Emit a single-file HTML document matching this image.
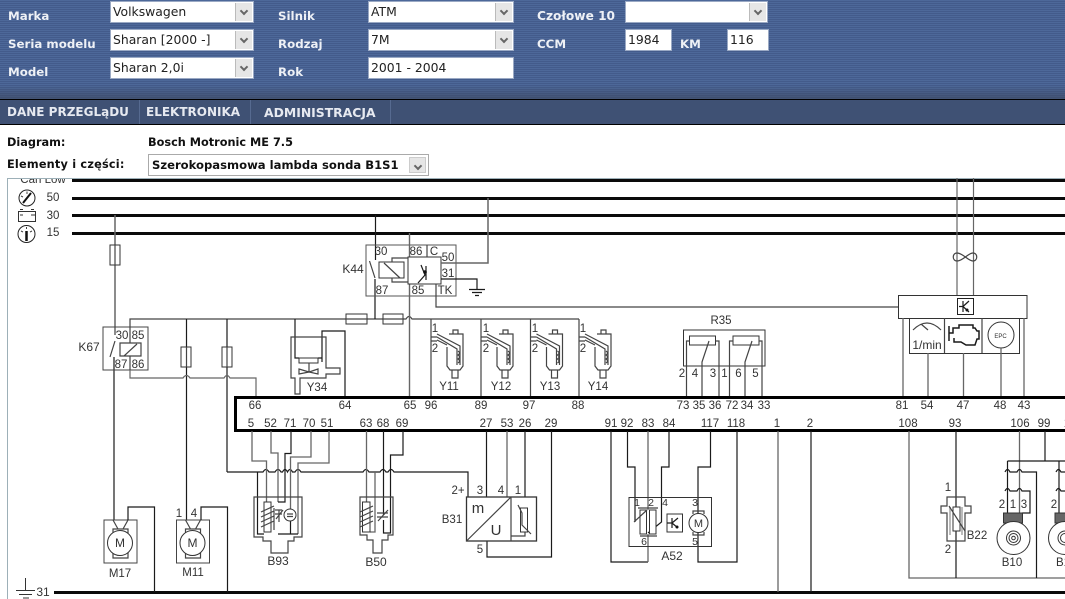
<!DOCTYPE html>
<html lang="pl"><head><meta charset="utf-8"><title>Bosch Motronic ME 7.5</title>
<style>
html,body{margin:0;padding:0;background:#fff}
body{position:relative;width:1065px;height:599px;overflow:hidden;font-family:"DejaVu Sans","Liberation Sans",sans-serif}
.hdr{position:absolute;left:0;top:0;width:1065px;height:99px;background:repeating-linear-gradient(180deg,#4d6899 0,#4d6899 1px,#435b8b 1px,#435b8b 2px)}
.hdr:after{content:"";position:absolute;left:0;right:0;bottom:0;height:14px;background:linear-gradient(180deg,rgba(60,70,90,0),rgba(60,70,90,.6))}
.l{position:absolute;color:#eef1f6;font-weight:bold;font-size:11.8px;line-height:14px;white-space:nowrap}
.f{position:absolute;box-sizing:border-box;background:#fff;border:1px solid #9aa9c4;height:22px;font-size:12.4px;line-height:20px;padding-left:2px;color:#222;white-space:nowrap}
.b{position:absolute;right:1px;top:1px;bottom:1px;width:16px;background:#e6e6e6;border-left:1px solid #bbb}
.b:after{content:"";position:absolute;left:5px;top:5px;width:4px;height:4px;border-right:2px solid #666;border-bottom:2px solid #666;transform:rotate(45deg)}
.nav{position:absolute;left:0;top:99px;width:1065px;height:26px;box-sizing:border-box;border-top:1px solid #000;border-bottom:1px solid #000;background:#3f5174}
.t{position:absolute;top:0;height:24px;line-height:25px;color:#e6e9f0;font-weight:bold;font-size:12px;white-space:nowrap;border-right:1px solid #566a90;box-sizing:border-box}
.d{position:absolute;color:#111;font-weight:bold;font-size:11.3px;line-height:14px;white-space:nowrap}
svg{position:absolute;left:0;top:0}
svg text{font-family:"Liberation Sans",sans-serif;font-size:11.5px;fill:#333;text-anchor:middle}
.w{fill:none;stroke:#444;stroke-width:1.2}
.k{fill:none;stroke:#1a1a1a;stroke-width:1.2}
.g{fill:none;stroke:#666;stroke-width:1.5}
.bus{fill:none;stroke:#0a0a0a;stroke-width:3}
</style></head><body>
<div class="hdr"></div>
<div class="l" style="left:8px;top:9px">Marka</div>
<div class="l" style="left:8px;top:37px">Seria modelu</div>
<div class="l" style="left:8px;top:65px">Model</div>
<div class="l" style="left:278px;top:9px">Silnik</div>
<div class="l" style="left:278px;top:37px">Rodzaj</div>
<div class="l" style="left:278px;top:65px">Rok</div>
<div class="l" style="left:537px;top:9px;font-size:12.2px">Czołowe 10</div>
<div class="l" style="left:537px;top:37px">CCM</div>
<div class="l" style="left:680px;top:37px">KM</div>
<div class="f" style="left:110px;top:1px;width:144px">Volkswagen<span class="b"></span></div>
<div class="f" style="left:110px;top:29px;width:144px">Sharan [2000 -]<span class="b"></span></div>
<div class="f" style="left:110px;top:57px;width:144px">Sharan 2,0i<span class="b"></span></div>
<div class="f" style="left:368px;top:1px;width:146px">ATM<span class="b"></span></div>
<div class="f" style="left:368px;top:29px;width:146px">7M<span class="b"></span></div>
<div class="f" style="left:368px;top:57px;width:146px">2001 - 2004</div>
<div class="f" style="left:625px;top:1px;width:143px"><span class="b"></span></div>
<div class="f" style="left:625px;top:29px;width:47px">1984</div>
<div class="f" style="left:727px;top:29px;width:42px">116</div>
<div class="nav">
<div class="t" style="left:0;width:140px;padding-left:7px">DANE PRZEGLąDU</div>
<div class="t" style="left:140px;width:111px;padding-left:6px">ELEKTRONIKA</div>
<div class="t" style="left:251px;width:140px;padding-left:13px;font-size:12.4px">ADMINISTRACJA</div>
</div>
<div class="d" style="left:7px;top:136px">Diagram:</div>
<div class="d" style="left:148px;top:136px">Bosch Motronic ME 7.5</div>
<div class="d" style="left:7px;top:158px;letter-spacing:.2px">Elementy i części:</div>
<div class="f d" style="left:148px;top:154px;width:281px;height:22px;border-color:#aaa;border-width:1px;line-height:20px;padding-left:3px;background:#fff;font-size:11.6px">Szerokopasmowa lambda sonda B1S1<span class="b" style="border:1px solid #ccc;top:2px;bottom:2px;right:2px;width:15px"></span></div>

<svg width="1065" height="599" viewBox="0 0 1065 599">
<defs>
<clipPath id="c"><rect x="8" y="179" width="1057" height="420"/></clipPath>
</defs>
<!-- frame -->
<path d="M7.500 599V178.500H1065" fill="none" stroke="#9db0b8" stroke-width="1"/>
<text x="43" y="183" clip-path="url(#c)">Can Low</text>
<!-- buses -->
<path class="bus" d="M72 180.500H1065M72 198.500H1065M72 215.500H1065M72 233.500H1065M54 592.500H1065"/>
<text x="53" y="201">50</text><text x="53" y="219">30</text><text x="53" y="236">15</text>
<text x="43" y="596" style="font-size:12px">31</text>
<!-- left icons -->
<circle cx="27" cy="198" r="8" fill="none" stroke="#222"/><path d="M23 203L31 193" stroke="#111" stroke-width="2"/><path d="M27 191.500V194M21 196L23 197" stroke="#444"/>
<path d="M18.500 211.500V221.500H35.500V211.500ZM20 209.500h3M31 209.500h3M31 215h4M20 215h3" fill="none" stroke="#333"/>
<circle cx="26.500" cy="234" r="8.500" fill="none" stroke="#222"/><path d="M26.500 231V241" stroke="#111" stroke-width="2.500"/><path d="M26.500 227V229M21 231L23 232M32 231L30 232" stroke="#444"/>
<path d="M25.500 578V590M16 590.500H35M19 594.500H32M23 598H29" fill="none" stroke="#333"/>
<!-- fuse + K67 -->
<path class="g" d="M115 215V335"/>
<path class="k" d="M114 357V520"/>
<rect x="110" y="245" width="10" height="20" fill="#fff" stroke="#333"/><path class="w" d="M115 245V265"/>
<rect x="103" y="327" width="45" height="43" fill="none" stroke="#444"/>
<path class="w" d="M110 357L115 341M130 327V343M130 356V370M120 343H141V356H120ZM124 356L137 344"/>
<text x="122" y="339">30</text><text x="138" y="339">85</text><text x="121" y="368">87</text><text x="138" y="368">86</text><text x="89" y="351" style="font-size:12px">K67</text>
<!-- y=319 feed -->
<path class="w" d="M130 327V319H346M367 319H383M403 319H406q3 -5 6 0H579"/>
<path class="w" d="M375 278L369.500 261"/>
<path class="k" d="M375.500 260V215M375 319V279"/>
<rect x="346" y="314" width="21" height="10" fill="#fff" stroke="#333"/><rect x="383" y="314" width="20" height="10" fill="#fff" stroke="#333"/><path class="w" d="M346 319H367M383 319H403"/>
<path class="k" d="M186.500 319V347M186.500 367V520"/>
<rect x="181" y="347" width="10" height="20" fill="#fff" stroke="#333"/><path class="w" d="M186.500 347V367"/>
<path class="k" d="M227 319V347M227 367V472"/>
<rect x="222" y="347" width="10" height="20" fill="#fff" stroke="#333"/><path class="w" d="M227 347V367"/>
<path class="g" d="M130 370V378H183q3.500 -5 7 0H224q3 -5 6 0H256V397" style="stroke-width:1.2"/>
<!-- Y34 -->
<path class="k" d="M295 319V358H299M322 358V331H345V397M318 358H322V362"/>
<path class="w" d="M326 337H291V378H295V394H300V378H326V374H340V368H326Z"/>
<rect x="299" y="358" width="19" height="5" fill="none" stroke="#333"/>
<path class="w" d="M309 363V372M299 369L309 372L299 374ZM318 369L309 372L318 374Z"/>
<text x="317" y="391">Y34</text>
<!-- K44 -->
<rect x="366" y="245" width="90" height="51" fill="none" stroke="#555"/>
<path class="g" d="M409.500 233V397" style="stroke-width:1.400"/>
<rect x="408" y="257" width="33" height="27" fill="#fff" stroke="#333"/>
<rect x="379" y="262" width="25" height="16" fill="none" stroke="#333"/>
<path class="w" d="M384 263L400 278M392 262V258H408M392 278V282H408M427 245V257M436 284V296"/>
<path class="k" d="M421 265L425 275L418 283M426 266V280"/><circle cx="425" cy="272" r="1.800" fill="#111"/>
<path class="g" d="M488 198V263H441"/>
<path class="k" d="M441 279H477V289M469 289.500H485M472 292.500H482M475 295.500H479"/>
<path class="w" d="M436 296V307H898"/>
<text x="381" y="255">30</text><text x="416" y="255">86</text><text x="434" y="255">C</text><text x="448" y="261">50</text><text x="448" y="277">31</text><text x="382" y="294">87</text><text x="418" y="294">85</text><text x="445" y="294">TK</text><text x="353" y="273" style="font-size:12px">K44</text>
<!-- injectors -->
<path class="w" d="M431 319V397M431 337H437M431 341H437M437 334L460 346V365M437 337L457 349V365M437 340L447 345M449 334H463V366L460 370H450L447 366V347M453 334V330H458V334M452 370V378H458V370M458 351q3 2 0 4q3 2 0 4q3 2 0 4"/>
<text x="435" y="332">1</text><text x="435" y="352">2</text><text x="449" y="390">Y11</text>
<path class="w" transform="translate(50 0)" d="M431 319V397M431 337H437M431 341H437M437 334L460 346V365M437 337L457 349V365M437 340L447 345M449 334H463V366L460 370H450L447 366V347M453 334V330H458V334M452 370V378H458V370M458 351q3 2 0 4q3 2 0 4q3 2 0 4"/>
<text x="486" y="332">1</text><text x="486" y="352">2</text><text x="501" y="390">Y12</text>
<path class="w" transform="translate(99.500 0)" d="M431 319V397M431 337H437M431 341H437M437 334L460 346V365M437 337L457 349V365M437 340L447 345M449 334H463V366L460 370H450L447 366V347M453 334V330H458V334M452 370V378H458V370M458 351q3 2 0 4q3 2 0 4q3 2 0 4"/>
<text x="535" y="332">1</text><text x="535" y="352">2</text><text x="550" y="390">Y13</text>
<path class="w" transform="translate(148 0)" d="M431 319V397M431 337H437M431 341H437M437 334L460 346V365M437 337L457 349V365M437 340L447 345M449 334H463V366L460 370H450L447 366V347M453 334V330H458V334M452 370V378H458V370M458 351q3 2 0 4q3 2 0 4q3 2 0 4"/>
<text x="583" y="332">1</text><text x="583" y="352">2</text><text x="598" y="390">Y14</text>
<!-- R35 -->
<rect x="683.500" y="330" width="81.500" height="36" fill="none" stroke="#333"/>
<rect x="689.500" y="336" width="26" height="9" fill="#fff" stroke="#333"/><rect x="733" y="336" width="26" height="9" fill="#fff" stroke="#333"/>
<path class="w" d="M686.500 397V341H689.500M719 397V341H715.500M702 397V362L709 341M729.500 397V341H733M762 397V341H759M745 397V362L752 341"/>
<text x="721" y="324">R35</text><text x="682" y="377">2</text><text x="695" y="377">4</text><text x="713" y="377">3</text><text x="724.500" y="377">1</text><text x="738.500" y="377">6</text><text x="755.500" y="377">5</text>
<!-- dashboard -->
<path class="g" d="M957 178V295M973.500 178V295" style="stroke-width:1.200"/>
<path class="w" d="M957 253C963 253 968 261 973 261C978 261 978 253 973 253C968 253 963 261 957 261C952 261 952 253 957 253Z" fill="#fff"/>
<rect x="898.500" y="295.500" width="128.500" height="23" fill="#fff" stroke="#333"/>
<rect x="957.500" y="298.500" width="16" height="16" fill="#fff" stroke="#222"/>
<path class="k" d="M963 301V312M963 306.500L959 306.500M963 306.500L969 301M963 306.500L969 312"/><circle cx="967" cy="310" r="1.500" fill="#111"/>
<rect x="909.500" y="318.500" width="110" height="35" fill="none" stroke="#333"/>
<path class="w" d="M944.500 318V353M982 318V353M913 330Q927 316 941 330M921 324L928 330"/>
<text x="927" y="349" style="font-size:12px">1/min</text>
<path class="k" style="stroke-width:1.500" d="M949 326V341M949 333H953V328H959V325H973V328H975L977 331H979V339H977L975 345H966L961 342H954V338"/>
<circle cx="1001" cy="335" r="13" fill="none" stroke="#333"/><text x="1000.500" y="338" style="font-size:6px">EPC</text>
<path class="g" d="M903 318V397M928 353V397M963.500 353V397M1001 348V397M1024 318V397" style="stroke-width:1.300"/>
<!-- ECU -->
<rect x="235.500" y="397.500" width="840" height="33" fill="#fff" stroke="#000" stroke-width="3"/>
<text x="255" y="409">66</text><text x="345" y="409">64</text><text x="410" y="409">65</text><text x="431" y="409">96</text><text x="481" y="409">89</text><text x="529" y="409">97</text><text x="578" y="409">88</text><text x="683" y="409">73</text><text x="699" y="409">35</text><text x="715" y="409">36</text><text x="732" y="409">72</text><text x="747" y="409">34</text><text x="764" y="409">33</text><text x="902" y="409">81</text><text x="927" y="409">54</text><text x="963" y="409">47</text><text x="1000" y="409">48</text><text x="1024" y="409">43</text>
<text x="251" y="427">5</text><text x="270.500" y="427">52</text><text x="290" y="427">71</text><text x="309" y="427">70</text><text x="327" y="427">51</text><text x="366" y="427">63</text><text x="383" y="427">68</text><text x="402" y="427">69</text><text x="486" y="427">27</text><text x="507" y="427">53</text><text x="525" y="427">26</text><text x="551" y="427">29</text><text x="611" y="427">91</text><text x="627" y="427">92</text><text x="648" y="427">83</text><text x="669" y="427">84</text><text x="710" y="427">117</text><text x="736" y="427">118</text><text x="777" y="427">1</text><text x="810" y="427">2</text><text x="908" y="427">108</text><text x="955" y="427">93</text><text x="1020" y="427">106</text><text x="1044" y="427">99</text><text x="1067" y="427">1</text>
<!-- M17 / M11 -->
<rect x="104" y="520" width="33" height="43" fill="none" stroke="#444"/>
<path class="w" d="M113 520L118 529M128 520L123 529M113 533V529H128V533M113 553V558H128V553"/>
<circle cx="120" cy="543" r="12.500" fill="#fff" stroke="#333"/>
<text x="120" y="547" style="font-size:12px">M</text>
<text x="120" y="577">M17</text>
<path class="k" d="M128 520V507H154.500V592"/>
<rect x="176.500" y="520" width="33" height="43" fill="none" stroke="#444"/>
<path class="w" d="M185.500 520L190.500 529M200.500 520L195.500 529M185.500 533V529H200.500V533M185.500 553V558H200.500V553"/>
<circle cx="192.500" cy="543" r="12.500" fill="#fff" stroke="#333"/>
<text x="192.500" y="547" style="font-size:12px">M</text>
<text x="193" y="576">M11</text><text x="179" y="517">1</text><text x="194" y="517">4</text>
<path class="k" d="M201 520V507H227.500V592"/>
<!-- main y=472 line -->
<path class="k" d="M227 472H263q3 -5 6 0H275q3 -5 6 0H282.500q2.500 -5 5 0q2.500 -5 5 0H295q3 -5 6 0H363q3 -5 6 0H380q3 -5 6 0H388q3 -5 6 0H468V497"/>
<!-- B93 wires -->
<path class="g" d="M252 431V461H266.500V502M271 431V453H278V502M311 431V457H290.500V509M329 431V463H298V534" style="stroke-width:1.300"/>
<path class="k" d="M291 431V453.500H285V502H278M257.500 472V534H264M278 534H298M290.500 521V534"/>
<path class="w" d="M254 497H302V537H294V541H288V553H271V541H263V537H254Z"/>
<rect x="264" y="502" width="7" height="30" fill="#fff" stroke="#333"/>
<path class="w" d="M261 512L274 506M261 517L274 511M261 522L274 516M261 527L274 521M274 508V530M275 510H282M275 514H282M276 519L283 510M279 510V522"/>
<circle cx="290" cy="515" r="6" fill="#fff" stroke="#333"/><path class="w" d="M287 514H293M287 516.500H293"/>
<text x="278" y="565" style="font-size:12px">B93</text>
<!-- B50 -->
<path class="g" d="M366.500 431V502M375 472V532H370" style="stroke-width:1.300"/>
<path class="k" d="M383.500 431V515M403 431V455H390.500V533H383.500V520"/>
<path class="w" d="M360 497H393V535H388V540H382V553H373V540H367V535H360Z"/>
<rect x="362.500" y="502" width="7.500" height="30" fill="#fff" stroke="#333"/>
<path class="w" d="M360 512L373 506M360 517L373 511M360 522L373 516M360 527L373 521M377 513H388M377 517H388M378 521L388 510"/>
<text x="376" y="566" style="font-size:12px">B50</text>
<!-- B31 -->
<path class="k" d="M486.500 431V497M525 431V508M525 532V538M551.500 431V557H487V541"/>
<path class="g" d="M507 431V497" style="stroke-width:1.300"/>
<rect x="466.500" y="497" width="70" height="44" fill="#fff" stroke="#333" stroke-width="1.300"/>
<path class="w" d="M511 497V541M466.500 541L511 497M525 532V536H511"/>
<rect x="520.500" y="508" width="7" height="24" fill="#fff" stroke="#333"/>
<path class="w" d="M518 505L522 513V525L531 534"/>
<text x="478" y="513" style="font-size:15px">m</text><text x="496" y="535" style="font-size:15px">U</text>
<text x="458" y="494">2+</text><text x="480" y="494">3</text><text x="501" y="494">4</text><text x="518" y="494">1</text><text x="480" y="553">5</text><text x="452" y="523">B31</text>
<!-- A52 -->
<path class="k" d="M611 431V562H648M669 431V467H661.500V522L648 533M627.500 431V467H635V522"/>
<path class="g" d="M648 431V510M648 534V562" style="stroke-width:1.300"/>
<path class="k" d="M710.500 431V467H698V562H737V431"/>
<rect x="629" y="497.500" width="82.500" height="49" fill="none" stroke="#333"/>
<rect x="640" y="510" width="6.500" height="24" fill="#fff" stroke="#333"/><rect x="649.500" y="510" width="6.500" height="24" fill="#fff" stroke="#333"/>
<path class="w" d="M638 508H658M640 536H657M634 522L647 510"/>
<rect x="667" y="514" width="15.500" height="18" fill="#fff" stroke="#333"/>
<path class="k" d="M672 518V528M672 523L678 518M672 523L678 528M667 523H672"/><circle cx="677" cy="527" r="1.500" fill="#111"/>
<path class="w" d="M693 514V511H704V514M693 532V535H704V532"/>
<circle cx="698.500" cy="523" r="9.500" fill="#fff" stroke="#333"/>
<text x="698.500" y="527" style="font-size:11px">M</text>
<text x="637" y="506" style="font-size:10.500px">1</text><text x="651" y="506" style="font-size:10.500px">2</text><text x="665" y="506" style="font-size:10.500px">4</text><text x="695" y="506" style="font-size:10.500px">3</text><text x="644" y="545" style="font-size:10.500px">6</text><text x="695" y="545" style="font-size:10.500px">5</text>
<text x="672" y="560" style="font-size:12px">A52</text>
<!-- 1 2 -->
<path class="g" d="M778 431V592" style="stroke-width:1.300"/><path class="k" d="M811 431V592"/>
<!-- 108 / B22 -->
<path class="g" d="M909 431V578H1065" style="stroke-width:1.300"/>
<path class="k" d="M956 431V578"/>
<path class="w" d="M947 497H965V506H971V513H965V541H947V513H941V506H947Z"/>
<path d="M950 507V535M962 507V535" stroke="#bbb" stroke-width="2"/>
<rect x="953" y="507" width="7" height="24" fill="#fff" stroke="#333"/>
<path class="w" d="M949 506L965 531"/>
<text x="948" y="491">1</text><text x="948" y="553">2</text><text x="977" y="539">B22</text>
<!-- B10 -->
<path class="g" d="M1019.500 431V513" style="stroke-width:1.300"/>
<path class="k" d="M1045 431V461M1007.500 461H1065M1007.500 461V513"/>
<path class="k" d="M1005 472q2.500 -5 5 0H1017q2.500 -5 5 0H1036.500V578M1005 491q2.500 -5 5 0H1017q2.500 -5 5 0H1030V513H1022"/>
<rect x="1003.500" y="513" width="19" height="10" fill="#666" stroke="#333"/>
<circle cx="1013.500" cy="538" r="16.500" fill="#fff" stroke="#333"/><circle cx="1013.500" cy="538" r="7" fill="none" stroke="#333"/><circle cx="1013.500" cy="538" r="4.500" fill="none" stroke="#333"/><circle cx="1013.500" cy="538" r="1.800" fill="none" stroke="#333"/>
<text x="1002" y="508">2</text><text x="1013" y="508">1</text><text x="1024" y="508">3</text><text x="1012" y="566">B10</text>
<path class="k" d="M1059 461V513"/><path class="k" d="M1056 472q2.500 -5 5 0H1065M1056 491q2.500 -5 5 0H1065"/>
<rect x="1055" y="513" width="19" height="10" fill="#666" stroke="#333"/>
<circle cx="1065" cy="538" r="16.500" fill="#fff" stroke="#333"/><circle cx="1065" cy="538" r="7" fill="none" stroke="#333"/><circle cx="1065" cy="538" r="4.500" fill="none" stroke="#333"/>
<text x="1054" y="508">2</text><text x="1063" y="566">B1</text>
</svg>
</body></html>
